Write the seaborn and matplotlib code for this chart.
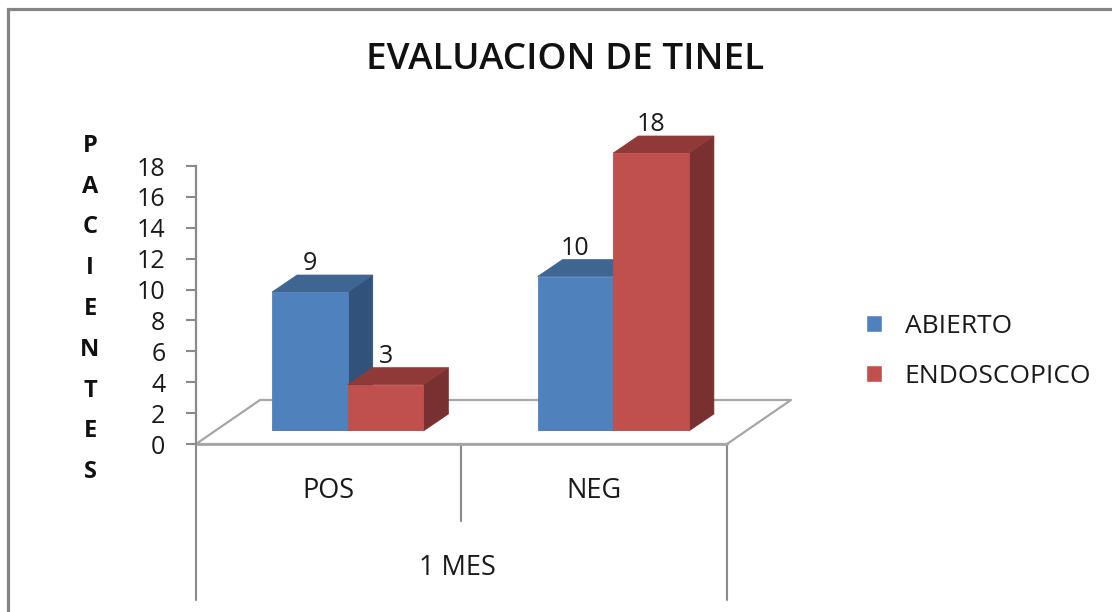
import matplotlib
matplotlib.use("Agg")
import matplotlib.pyplot as plt
from matplotlib.patches import Polygon
import pandas as pd
import seaborn as sns

# Patients per Tinel result and surgical technique
results = ["POS", "NEG"]
techniques = ["ABIERTO", "ENDOSCOPICO"]
abierto = [9, 10]
endoscopico = [3, 18]
y_ticks = list(range(0, 20, 2))
title = "EVALUACION DE TINEL"
y_title = "PACIENTES"
period = "1 MES"

W, H = 1112, 612
FONT = "Open Sans"
TEXT = "#1a1a1a"
LINE = "#8a8a8a"
FLOOR = "#a6a6a6"
FRONT = ["#4F81BD", "#C0504D"]
TOP = ["#3F6592", "#8F3A38"]
SIDE = ["#31527A", "#783030"]

sns.set_theme(style="white")
plt.rcParams["font.family"] = [FONT, "DejaVu Sans"]

df = pd.DataFrame({
    "resultado": results * 2,
    "tecnica": [techniques[0]] * 2 + [techniques[1]] * 2,
    "pacientes": abierto + endoscopico,
})


def rect(left, right, top, bottom):
    """Axes rectangle given in canvas pixels (y measured from the top)."""
    return [left / W, 1 - bottom / H, (right - left) / W, (bottom - top) / H]


fig = plt.figure(figsize=(W / 100, H / 100), dpi=100, facecolor="white")

# Full-figure canvas in pixels for the frame, chart floor and free-standing text
canvas = fig.add_axes([0, 0, 1, 1], zorder=0)
canvas.set_xlim(0, W)
canvas.set_ylim(H, 0)
canvas.set_axis_off()
canvas.plot([8, 8, W], [H, 9, 9], color="#858585", lw=2.3, solid_joinstyle="miter")
floor_x = [196, 727, 791, 260, 196]
floor_y = [444, 444, 400, 400, 444]
canvas.plot(floor_x, floor_y, color=FLOOR, lw=1.6, solid_joinstyle="round")
for x, bottom in [(196, 600), (461, 521), (727, 600)]:
    canvas.plot([x, x], [444, bottom], color=LINE, lw=1.5)
canvas.plot([196, 727], [444, 444], color=FLOOR, lw=2)
canvas.text(565, 60, title, ha="center", va="center", fontsize=26.6,
            fontweight="semibold", color="#111111")
canvas.text(90, 309, "\n".join(y_title), ha="center", va="center", fontsize=17,
            fontweight="bold", color="#111111", linespacing=1.935)
canvas.text(457, 568, period, ha="center", va="center", fontsize=19.5, color=TEXT)

# Value axis and category labels
axis_ax = fig.add_axes(rect(196, 727, 166, 444), zorder=1)
axis_ax.patch.set_alpha(0)
axis_ax.set_xlim(-0.5, 1.5)
axis_ax.set_ylim(0, 18)
axis_ax.set_yticks(y_ticks)
axis_ax.set_xticks(range(len(results)))
axis_ax.set_xticklabels(results)
for side in ("top", "right", "bottom"):
    axis_ax.spines[side].set_visible(False)
axis_ax.spines["left"].set_color(LINE)
axis_ax.spines["left"].set_linewidth(1.6)
axis_ax.tick_params(axis="y", left=True, length=7, width=1.5, color=LINE, pad=15,
                    labelsize=18, labelcolor=TEXT)
axis_ax.tick_params(axis="x", bottom=False, pad=18, labelsize=19.5, labelcolor=TEXT)

# Bars: front faces come from seaborn, depth faces are derived from each bar
ax = fig.add_axes(rect(215, 746, 153, 431), zorder=2)
sns.barplot(data=df, x="resultado", y="pacientes", hue="tecnica", order=results,
            hue_order=techniques, palette=FRONT, width=0.57, gap=0, dodge=True,
            saturation=1, ax=ax)
ax.set_xlim(-0.5, 1.5)
ax.set_ylim(0, 18)
ax.patch.set_alpha(0)

DEPTH_X = 25 / 265.5   # category units
DEPTH_Y = 17 / 15.44   # value units
for i, container in enumerate(ax.containers):
    for bar, value in zip(container.patches, container.datavalues):
        x0, x1 = bar.get_x(), bar.get_x() + bar.get_width()
        bar.set_zorder(4 + 2 * i)
        bar.set_edgecolor(FRONT[i])
        bar.set_linewidth(0.6)
        ax.add_patch(Polygon(
            [(x1, 0), (x1 + DEPTH_X, DEPTH_Y), (x1 + DEPTH_X, value + DEPTH_Y), (x1, value)],
            closed=True, facecolor=SIDE[i], edgecolor=SIDE[i], linewidth=0.5,
            clip_on=False, zorder=3 + 2 * i))
        ax.add_patch(Polygon(
            [(x0, value), (x0 + DEPTH_X, value + DEPTH_Y), (x1 + DEPTH_X, value + DEPTH_Y), (x1, value)],
            closed=True, facecolor=TOP[i], edgecolor=TOP[i], linewidth=0.5,
            clip_on=False, zorder=3 + 2 * i))
        ax.annotate(f"{value:g}", (x0 + (x1 - x0) / 2, value + DEPTH_Y), xytext=(0, 11),
                    textcoords="offset pixels", ha="center", va="center", fontsize=18,
                    color=TEXT, annotation_clip=False, zorder=20)

handles, labels = ax.get_legend_handles_labels()
ax.legend(handles, labels, loc="center left", bbox_to_anchor=(866 / W, 1 - 351.5 / H),
          bbox_transform=fig.transFigure, frameon=False, fontsize=19, labelcolor=TEXT,
          handlelength=0.6, handleheight=0.6, handletextpad=0.87, labelspacing=0.95,
          borderpad=0, borderaxespad=0)
ax.set_axis_off()

fig.savefig("out.png", dpi=100, facecolor="white")
